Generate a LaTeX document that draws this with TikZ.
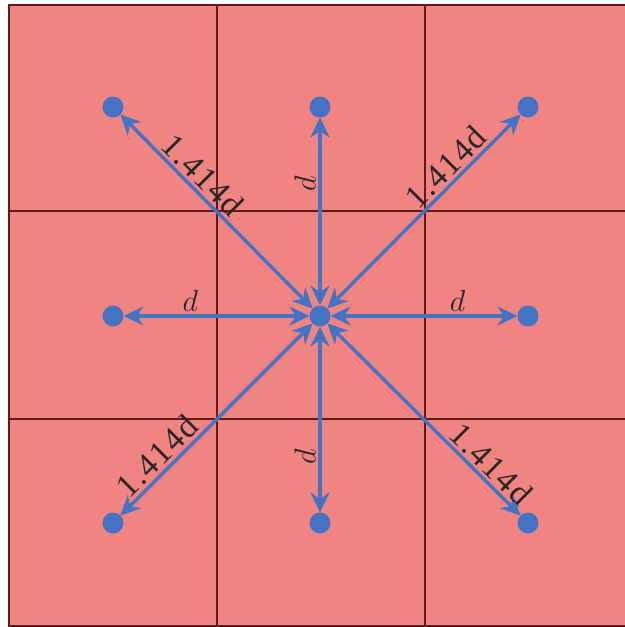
\documentclass[tikz,border=0pt]{standalone}
\usepackage{fontspec}
\setmainfont{Liberation Serif}
\usepackage{tikz}
\usetikzlibrary{arrows.meta}
\definecolor{cellred}{RGB}{240,132,128}
\definecolor{gridline}{RGB}{100,25,25}
\definecolor{dotblue}{RGB}{68,114,196}
\tikzset{
    pt/.style={circle, fill=dotblue, inner sep=0pt, outer sep=0pt, minimum size=0.42cm},
    link/.style={<->, >={Stealth[length=0.4cm, width=0.38cm, inset=0.13cm]}, draw=dotblue, line width=1.9pt},
    lbl/.style={sloped, above, font=\fontsize{19}{21}\selectfont\addfontfeatures{LetterSpace=5}, text=black!85, inner sep=1.5pt},
    grid/.style={draw=gridline, line width=1.2pt}
}
\begin{document}
\begin{tikzpicture}[x=0.02cm, y=-0.02cm]
    \useasboundingbox (0,0) rectangle (625,627);
    \fill[cellred] (9,5) rectangle (633,626);
    \draw[grid] (633,5) -- (9,5) -- (9,626) -- (633,626);
    \draw[grid] (217,5) -- (217,626) (425,5) -- (425,626);
    \draw[grid] (9,211) -- (633,211) (9,419) -- (633,419);

    \node[pt] (c) at (320,316) {};
    \node[pt] (tl) at (113,107) {};
    \node[pt] (t) at (320,107) {};
    \node[pt] (tr) at (528,107) {};
    \node[pt] (l) at (113,316) {};
    \node[pt] (r) at (528,316) {};
    \node[pt] (bl) at (113,523) {};
    \node[pt] (b) at (320,523) {};
    \node[pt] (br) at (528,523) {};

    \draw[link] (c) -- (tl) node[lbl, pos=0.63] {1.414d};
    \draw[link] (c) -- (t) node[lbl, pos=0.65] {$d$};
    \draw[link] (c) -- (tr) node[lbl, pos=0.67] {1.414d};
    \draw[link] (l) -- (c) node[lbl, pos=0.36] {$d$};
    \draw[link] (c) -- (r) node[lbl, pos=0.68] {$d$};
    \draw[link] (bl) -- (c) node[lbl, pos=0.25] {1.414d};
    \draw[link] (b) -- (c) node[lbl, pos=0.30] {$d$};
    \draw[link] (c) -- (br) node[lbl, pos=0.79] {1.414d};
\end{tikzpicture}
\end{document}
